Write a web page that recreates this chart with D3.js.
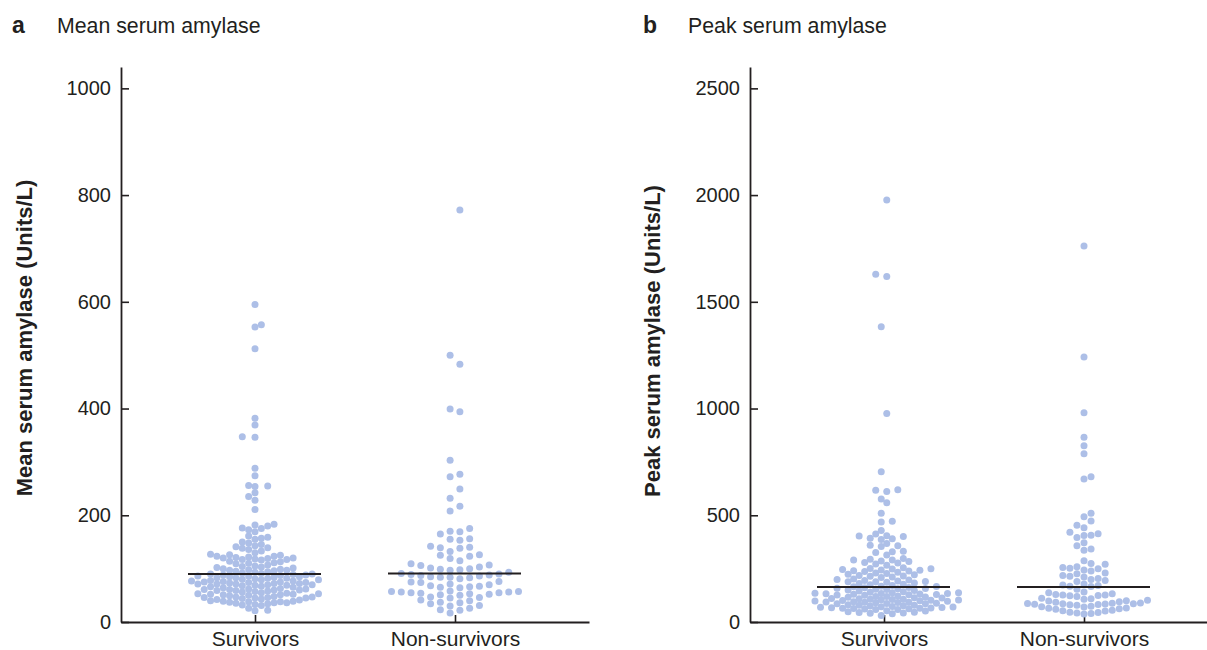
<!DOCTYPE html>
<html>
<head>
<meta charset="utf-8">
<script src="https://cdn.jsdelivr.net/npm/d3@7"></script>
<style>
  html, body { margin: 0; padding: 0; background: #fff; }
  svg { display: block; font-family: "Liberation Sans", Arial, Helvetica, sans-serif; }
</style>
</head>
<body>
<svg id="chart" width="1207" height="650"></svg>
<script>
// ---------------- DATA ----------------
const categories = ["Survivors", "Non-survivors"];

const panelLetters = ["a", "b"];
const panelTitles = ["Mean serum amylase", "Peak serum amylase"];
const yLabels = ["Mean serum amylase (Units/L)", "Peak serum amylase (Units/L)"];

const ticksA = [0, 200, 400, 600, 800, 1000];
const ticksB = [0, 500, 1000, 1500, 2000, 2500];

// Panel a: mean serum amylase (Units/L)
const meanSurvivors = [
  595, 557, 553, 512, 382, 369, 347, 346, 288, 274, 256, 255, 254, 242, 235, 228, 211,
  182, 183, 180, 176, 175, 173, 169, 161, 159, 157, 155, 150, 148, 145, 143, 141, 139, 138, 136, 133, 130,
  126, 125, 123, 127, 122, 120, 123, 119, 118, 120, 117, 121, 116, 114, 117, 113, 110, 111, 109, 107,
  104, 105, 103, 101, 100, 102, 99, 97, 98,
  95, 93, 92, 96, 91, 94, 97, 90,
  88, 89, 87, 86, 90, 88,
  85, 86, 84, 83, 85,
  82, 81, 83, 80, 79, 82,
  77, 78, 76, 75, 79, 77,
  74, 73, 75, 72, 71, 74,
  71, 70, 69, 68, 71, 70, 72, 67, 69,
  64, 65, 63, 62, 66,
  60, 61, 59, 58, 62, 57, 60, 61, 59,
  56, 55, 54,
  52, 53, 51, 50, 49, 52, 53, 51, 48,
  47, 46, 45, 47, 44, 45, 46,
  43, 42, 41,
  39, 40, 38, 37, 39, 38, 36,
  35, 34, 33, 36,
  32, 31, 26, 22, 21
];
const meanNonSurvivors = [
  772, 500, 483, 399, 394, 303, 277, 272, 249, 232, 217, 208,
  175, 170, 169, 165, 156, 155, 153, 142, 140, 139, 138, 132, 125, 126, 123, 119, 115, 109, 107, 106, 103,
  99, 98, 100, 101, 97, 93, 90, 91, 89, 86, 87, 85, 84, 88, 84, 83, 81, 75, 76, 74, 71, 70, 67, 68, 65, 66, 64,
  57, 56, 55, 58, 57, 54, 55, 53, 56, 51, 52, 50, 46, 47, 45, 41, 40, 37, 36, 34, 31, 30, 26, 23, 22, 17
];
const meanMedians = [90, 91];

// Panel b: peak serum amylase (Units/L)
const peakSurvivors = [
  1977, 1629, 1618, 1383, 977, 704,
  617, 611, 620, 576, 559, 509, 472, 468, 429, 412, 404, 403, 400, 390, 386, 392, 368, 360, 354, 357,
  332, 326, 329, 314, 297, 294, 290,
  286, 279, 283, 290, 276, 272, 266, 254, 248,
  246, 240, 243, 249, 237, 244, 251, 239,
  230, 224, 227, 233, 218, 211, 214, 221, 208, 216, 202, 197, 199,
  192, 186, 189, 195, 183, 188, 190, 180, 175, 177,
  168, 162, 165, 171, 160, 166, 156, 152, 158, 154, 150, 157,
  145, 139, 142, 147, 137,
  134, 128, 131, 137, 125, 132, 129, 135, 127, 130, 133,
  119, 113, 116, 122, 110, 117, 114, 120,
  106, 100, 103, 109, 97, 104, 101, 107, 98, 102, 105,
  93, 87, 90, 95, 85, 91, 88, 94, 86, 92,
  78, 72, 75, 81, 70, 76, 73, 79,
  66, 61, 64, 69, 58, 65, 62, 67, 59, 63, 68,
  51, 46, 48, 53, 44, 42, 39, 41, 31
];
const peakNonSurvivors = [
  1762, 1242, 980, 866, 826, 788, 680, 670,
  510, 493, 473, 453, 442, 420, 413, 406, 405, 396, 371, 357, 342, 336,
  287, 274, 270, 259, 255, 252, 249, 244, 239, 230, 226, 218, 214, 211, 204, 199, 194, 190, 178,
  173, 168, 171, 166, 153, 141, 137,
  129, 123, 126, 132, 120, 127, 124, 111, 107, 109, 102, 98, 100, 95, 93,
  87, 82, 84, 89, 79, 85, 81, 88, 83, 86, 74, 70, 72, 66, 62, 64, 60, 55, 51, 53, 46, 42, 44, 40, 37
];
const peakMedians = [164, 164];

// ---------------- DRAWING ----------------
const svg = d3.select("#chart");
const DOT = "#adbfe7";
const INK = "#231f20";
const R = 3.5;
const DIAM = 6.9;
const DMIN = 6.2;
const HALF = 63.5;

const panels = [
  { letter: panelLetters[0], title: panelTitles[0], ylab: yLabels[0], ticks: ticksA, ymax: 1040,
    series: [meanSurvivors, meanNonSurvivors], medians: meanMedians, cols: [21, 14],
    x0: 121, x1: 589, letterX: 12, titleX: 57, ylabX: 24, ylabY: 338 },
  { letter: panelLetters[1], title: panelTitles[1], ylab: yLabels[1], ticks: ticksB, ymax: 2600,
    series: [peakSurvivors, peakNonSurvivors], medians: peakMedians, cols: [24, 19],
    x0: 750, x1: 1218, letterX: 643, titleX: 688, ylabX: 652, ylabY: 341 }
];

const yBottom = 622, yTop = 67;

// column-based dot plot layout (points snapped to evenly spaced columns)
function swarm(values, y, cx, ncol) {
  const s = 2 * HALF / (ncol - 1);
  const dmin = Math.min(DIAM, Math.max(DMIN, s + 0.05));
  const offs = [];
  for (let j = -25; j < ncol + 25; j++) offs.push((j - (ncol - 1) / 2) * s);
  offs.sort((a, b) => Math.abs(a) - Math.abs(b) || a - b);
  const pts = values.map(v => ({ v, y: y(v) })).sort((a, b) => b.y - a.y);
  const placed = [];
  const d2 = dmin * dmin;
  let flip = false;
  for (const p of pts) {
    const near = placed.filter(q => Math.abs(q.y - p.y) < dmin);
    let chosen = null;
    for (let i = 0; i < offs.length && chosen === null; i++) {
      let group = [offs[i]];
      if (i + 1 < offs.length && Math.abs(Math.abs(offs[i + 1]) - Math.abs(offs[i])) < 1e-6) {
        group = flip ? [offs[i + 1], offs[i]] : [offs[i], offs[i + 1]];
        i++;
      }
      for (const o of group) {
        let ok = true;
        for (const q of near) {
          const dx = q.o - o, dy = q.y - p.y;
          if (dx * dx + dy * dy < d2 - 0.01) { ok = false; break; }
        }
        if (ok) { chosen = o; break; }
      }
    }
    flip = !flip;
    p.o = chosen;
    placed.push(p);
  }
  return placed.map(p => ({ v: p.v, x: cx + p.o, y: p.y }));
}

panels.forEach(P => {
  const y = d3.scaleLinear().domain([0, P.ymax]).range([yBottom, yTop]);
  const x = d3.scalePoint().domain(categories).range([P.x0, P.x1]).padding(0.67);

  const g = svg.append("g");

  g.append("text").attr("x", P.letterX).attr("y", 33)
    .attr("font-size", 23).attr("font-weight", "bold").attr("fill", INK).text(P.letter);
  g.append("text").attr("x", P.titleX).attr("y", 33)
    .attr("font-size", 21.3).attr("fill", INK).text(P.title);

  const ya = d3.axisLeft(y).tickValues(P.ticks).tickSize(-8).tickSizeOuter(0).tickPadding(10)
    .tickFormat(d3.format("d"));
  const yg = g.append("g").attr("transform", `translate(${P.x0},0)`).call(ya);
  yg.select(".domain").attr("stroke", INK).attr("stroke-width", 1.8);
  yg.selectAll(".tick line").attr("stroke", INK).attr("stroke-width", 1.6);
  yg.selectAll(".tick text").attr("font-size", 20).attr("fill", INK)
    .attr("font-family", "Liberation Sans, Arial, sans-serif");

  const xa = d3.axisBottom(x).tickSize(-7).tickSizeOuter(0).tickPadding(9);
  const xg = g.append("g").attr("transform", `translate(0,${yBottom})`).call(xa);
  xg.select(".domain").attr("stroke", INK).attr("stroke-width", 1.8);
  xg.selectAll(".tick line").attr("stroke", INK).attr("stroke-width", 1.6);
  xg.selectAll(".tick text").attr("font-size", 21).attr("fill", INK)
    .attr("font-family", "Liberation Sans, Arial, sans-serif");

  g.append("text")
    .attr("transform", `translate(${P.ylabX},${P.ylabY}) rotate(-90)`)
    .attr("text-anchor", "middle").attr("dy", "0.35em")
    .attr("font-size", 22).attr("font-weight", "bold").attr("fill", INK)
    .text(P.ylab);

  P.series.forEach((vals, i) => {
    const pts = swarm(vals, y, x(categories[i]), P.cols[i]);
    g.append("g").selectAll("circle").data(pts).join("circle")
      .attr("cx", d => d.x).attr("cy", d => d.y).attr("r", R)
      .attr("fill", DOT);
  });

  P.medians.forEach((m, i) => {
    const cx = x(categories[i]);
    g.append("line")
      .attr("x1", cx - 67).attr("x2", cx + 66)
      .attr("y1", y(m)).attr("y2", y(m))
      .attr("stroke", INK).attr("stroke-width", 2);
  });
});
</script>
</body>
</html>
